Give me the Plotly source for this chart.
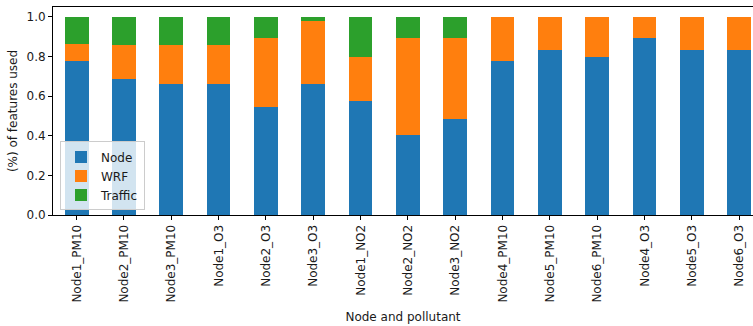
import plotly.graph_objects as go

# Share of features used per node/pollutant model, split by feature source
categories = [
    "Node1_PM10", "Node2_PM10", "Node3_PM10", "Node1_O3", "Node2_O3",
    "Node3_O3", "Node1_NO2", "Node2_NO2", "Node3_NO2", "Node4_PM10",
    "Node5_PM10", "Node6_PM10", "Node4_O3", "Node5_O3", "Node6_O3",
]
node_share = [0.778, 0.686, 0.659, 0.659, 0.545, 0.659, 0.576, 0.402, 0.486,
              0.775, 0.834, 0.800, 0.892, 0.834, 0.834]
wrf_share = [0.083, 0.174, 0.201, 0.201, 0.347, 0.319, 0.224, 0.490, 0.406,
             0.225, 0.166, 0.200, 0.108, 0.166, 0.166]
traffic_share = [0.139, 0.140, 0.140, 0.140, 0.108, 0.022, 0.200, 0.108, 0.108,
                 0.0, 0.0, 0.0, 0.0, 0.0, 0.0]

series = [
    ("Node", node_share, "#1f77b4"),
    ("WRF", wrf_share, "#ff7f0e"),
    ("Traffic", traffic_share, "#2ca02c"),
]

fig = go.Figure()
for name, values, color in series:
    fig.add_trace(go.Bar(
        x=categories, y=values, name=name,
        marker=dict(color=color, line=dict(width=0)),
    ))

font_family = "DejaVu Sans, sans-serif"

fig.update_layout(
    width=753, height=326,
    barmode="stack", bargap=0.5,
    paper_bgcolor="white", plot_bgcolor="white",
    margin=dict(l=53, r=0, t=7, b=111),
    font=dict(family=font_family, size=12, color="#1a1a1a"),
    showlegend=True,
    legend=dict(
        x=0.01, y=0.022, xanchor="left", yanchor="bottom",
        bgcolor="rgba(255,255,255,0.8)", bordercolor="#cccccc", borderwidth=1,
        font=dict(size=12, color="#1a1a1a"),
        traceorder="normal", itemwidth=30,
    ),
    xaxis=dict(
        type="category",
        range=[-0.5, 14.29],
        tickangle=-90,
        ticks="outside", ticklen=4, tickcolor="black", tickwidth=1,
        showline=True, linecolor="black", linewidth=1, mirror=True,
        showgrid=False, zeroline=False,
        tickfont=dict(size=12),
        title=dict(text="Node and pollutant", font=dict(size=12), standoff=10),
    ),
    yaxis=dict(
        range=[0, 1.05],
        tickvals=[0.0, 0.2, 0.4, 0.6, 0.8, 1.0],
        tickformat=".1f",
        ticks="outside", ticklen=4, tickcolor="black", tickwidth=1,
        showline=True, linecolor="black", linewidth=1,
        showgrid=False, zeroline=False,
        tickfont=dict(size=12),
        title=dict(text="(%) of features used", font=dict(size=12), standoff=6),
    ),
)

fig.write_html("out.html")
